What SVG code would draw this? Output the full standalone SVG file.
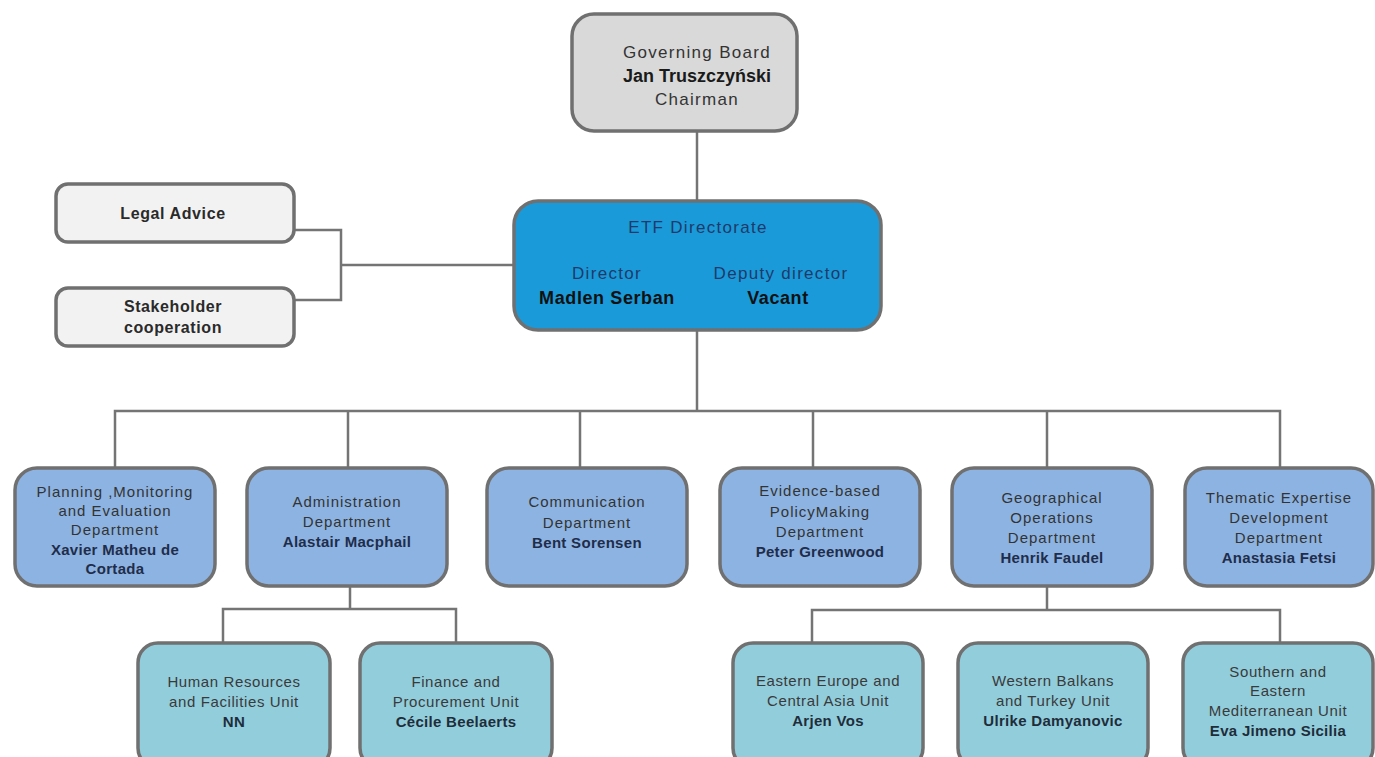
<svg xmlns="http://www.w3.org/2000/svg" width="1375" height="757" viewBox="0 0 1375 757">
<style>
.box{stroke:#707070;stroke-width:3.5}
.gov{fill:#d9d9d9}
.side{fill:#f2f2f2}
.dir{fill:#1a9ad9}
.dept{fill:#8db3e2}
.unit{fill:#92cddc}
.t{font-family:"Liberation Sans",Arial,sans-serif;text-anchor:middle}
.top{font-size:17px;letter-spacing:1.3px;fill:#333}
.topb{font-size:18px;font-weight:bold;fill:#1a1a1a}
.dirt{font-size:17px;letter-spacing:1.3px;fill:#1f3a6a}
.dirb{font-size:18px;font-weight:bold;letter-spacing:0.6px;fill:#111}
.sb{font-size:16px;font-weight:bold;letter-spacing:0.6px;fill:#2a2a2a}
.d{font-size:15px;letter-spacing:1px;fill:#333}
.db{font-size:15px;font-weight:bold;letter-spacing:0.3px;fill:#1f2d4a}
.u{font-size:15px;letter-spacing:0.6px;fill:#3a3a3a}
.ub{font-size:15px;font-weight:bold;letter-spacing:0.3px;fill:#1f2d3a}
.c{fill:none;stroke:#747474;stroke-width:2.5}
</style>
<rect width="1375" height="757" fill="#ffffff"/>
<g id="connectors">
<path class="c" d="M697 131V200"/>
<path class="c" d="M295 230H341V300H295M341 265H514"/>
<path class="c" d="M697 330V411M115 467V411H1280V467M348 411V467M580 411V467M813 411V467M1047 411V467"/>
<path class="c" d="M350 586V609M223 643V609H456V643"/>
<path class="c" d="M1047 586V610M812 643V610H1280V643"/>
</g>
<g id="governing-board">
<rect class="box gov" x="572" y="14" width="225" height="117" rx="22"/>
<text class="t top" x="697" y="58">Governing Board</text>
<text class="t topb" x="697" y="82">Jan Truszczyński</text>
<text class="t top" x="697" y="105">Chairman</text>
</g>
<g id="legal-advice">
<rect class="box side" x="56" y="184" width="238" height="58" rx="12"/>
<text class="t sb" x="173" y="219">Legal Advice</text>
</g>
<g id="stakeholder-cooperation">
<rect class="box side" x="56" y="288" width="238" height="58" rx="12"/>
<text class="t sb" x="173" y="312">Stakeholder</text>
<text class="t sb" x="173" y="333">cooperation</text>
</g>
<g id="etf-directorate">
<rect class="box dir" x="514" y="201" width="367" height="129" rx="24"/>
<text class="t dirt" x="698" y="233">ETF Directorate</text>
<text class="t dirt" x="607" y="279">Director</text>
<text class="t dirb" x="607" y="304">Madlen Serban</text>
<text class="t dirt" x="781" y="279">Deputy director</text>
<text class="t dirb" x="778" y="304">Vacant</text>
</g>
<g id="planning">
<rect class="box dept" x="15" y="468" width="200" height="118" rx="22"/>
<text class="t d" x="115" y="497">Planning ,Monitoring</text>
<text class="t d" x="115" y="516">and Evaluation</text>
<text class="t d" x="115" y="535">Department</text>
<text class="t db" x="115" y="555">Xavier Matheu de</text>
<text class="t db" x="115" y="574">Cortada</text>
</g>
<g id="administration">
<rect class="box dept" x="247" y="468" width="200" height="118" rx="22"/>
<text class="t d" x="347" y="507">Administration</text>
<text class="t d" x="347" y="527">Department</text>
<text class="t db" x="347" y="547">Alastair Macphail</text>
</g>
<g id="communication">
<rect class="box dept" x="487" y="468" width="200" height="118" rx="22"/>
<text class="t d" x="587" y="507">Communication</text>
<text class="t d" x="587" y="528">Department</text>
<text class="t db" x="587" y="548">Bent Sorensen</text>
</g>
<g id="evidence">
<rect class="box dept" x="720" y="468" width="200" height="118" rx="22"/>
<text class="t d" x="820" y="496">Evidence-based</text>
<text class="t d" x="820" y="517">PolicyMaking</text>
<text class="t d" x="820" y="537">Department</text>
<text class="t db" x="820" y="557">Peter Greenwood</text>
</g>
<g id="geographical">
<rect class="box dept" x="952" y="468" width="200" height="118" rx="22"/>
<text class="t d" x="1052" y="503">Geographical</text>
<text class="t d" x="1052" y="523">Operations</text>
<text class="t d" x="1052" y="543">Department</text>
<text class="t db" x="1052" y="563">Henrik Faudel</text>
</g>
<g id="thematic">
<rect class="box dept" x="1185" y="468" width="188" height="118" rx="22"/>
<text class="t d" x="1279" y="503">Thematic Expertise</text>
<text class="t d" x="1279" y="523">Development</text>
<text class="t d" x="1279" y="543">Department</text>
<text class="t db" x="1279" y="563">Anastasia Fetsi</text>
</g>
<g id="human-resources">
<rect class="box unit" x="138" y="643" width="192" height="125" rx="20"/>
<text class="t u" x="234" y="687">Human Resources</text>
<text class="t u" x="234" y="707">and Facilities Unit</text>
<text class="t ub" x="234" y="727">NN</text>
</g>
<g id="finance">
<rect class="box unit" x="360" y="643" width="192" height="125" rx="20"/>
<text class="t u" x="456" y="687">Finance and</text>
<text class="t u" x="456" y="707">Procurement Unit</text>
<text class="t ub" x="456" y="727">Cécile Beelaerts</text>
</g>
<g id="eastern-europe">
<rect class="box unit" x="733" y="643" width="190" height="125" rx="20"/>
<text class="t u" x="828" y="686">Eastern Europe and</text>
<text class="t u" x="828" y="706">Central Asia Unit</text>
<text class="t ub" x="828" y="726">Arjen Vos</text>
</g>
<g id="western-balkans">
<rect class="box unit" x="958" y="643" width="190" height="125" rx="20"/>
<text class="t u" x="1053" y="686">Western Balkans</text>
<text class="t u" x="1053" y="706">and Turkey Unit</text>
<text class="t ub" x="1053" y="726">Ulrike Damyanovic</text>
</g>
<g id="southern-eastern-med">
<rect class="box unit" x="1183" y="643" width="190" height="125" rx="20"/>
<text class="t u" x="1278" y="677">Southern and</text>
<text class="t u" x="1278" y="696">Eastern</text>
<text class="t u" x="1278" y="716">Mediterranean Unit</text>
<text class="t ub" x="1278" y="736">Eva Jimeno Sicilia</text>
</g>
</svg>
